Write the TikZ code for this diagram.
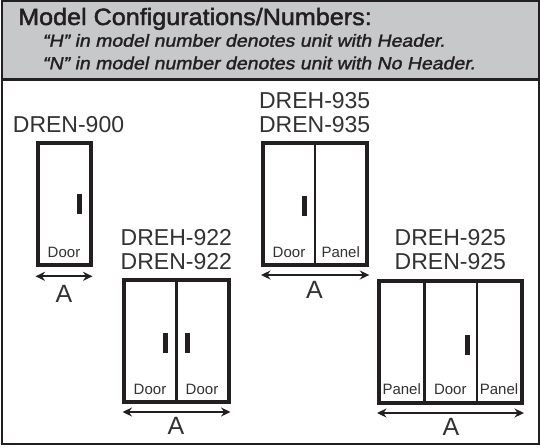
\documentclass[tikz,border=0pt]{standalone}
\usepackage{fontspec}
\setmainfont{Liberation Sans}
\newfontfamily\headfont[FakeBold=2,FakeStretch=1.07]{Liberation Sans}
\newfontfamily\noteital[FakeBold=1.6,FakeSlant=0.2,FakeStretch=1.113]{Liberation Sans}
\usetikzlibrary{arrows.meta}
\definecolor{ink}{HTML}{231F20}
\definecolor{band}{HTML}{C7C8CA}
\definecolor{soft}{HTML}{333132}
\tikzset{
  unit/.style={draw=ink,line width=4pt,fill=white,inner sep=0pt,outer sep=0pt,anchor=north west},
  divider/.style={draw=ink,line width=2.4pt},
  handle/.style={fill=ink,draw=none,inner sep=0pt,outer sep=0pt,minimum width=4.6pt,minimum height=20pt},
  model/.style={anchor=base,font=\fontsize{23}{23}\selectfont,text=soft,inner sep=0pt},
  leaf/.style={anchor=base,font=\fontsize{15}{15}\selectfont,text=soft,inner sep=0pt},
  dimtext/.style={anchor=base,font=\fontsize{25}{25}\selectfont,text=soft,inner sep=0pt},
  dimline/.style={draw=ink,line width=1.8pt,{Stealth[length=9.5pt,width=9pt]}-{Stealth[length=9.5pt,width=9pt]}},
  title/.style={anchor=base west,inner sep=0pt,text=ink},
}
\begin{document}
\begin{tikzpicture}[x=1pt,y=-1pt]
\useasboundingbox (0,0) rectangle (540,447);
\fill[white] (0,0) rectangle (540,447);
% header band and frame
\fill[band] (1.8,0.5) rectangle (538.7,79.5);
\draw[ink,line width=2.4pt] (1.8,79.5) -- (538.7,79.5);
\draw[ink,line width=2pt] (1.8,0.5) rectangle (538.7,443.7);
\node[title,font=\headfont\fontsize{23.5}{24}\selectfont] (head) at (18,25) {Model Configurations/Numbers:};
\node[title,font=\noteital\fontsize{17.5}{18}\selectfont] (noteH) at (42,46.7) {“H” in model number denotes unit with Header.};
\node[title,font=\noteital\fontsize{17.5}{18}\selectfont] (noteN) at (42,69.3) {“N” in model number denotes unit with No Header.};
% DREN-900
\node[model] (m900) at (68.5,132.7) {DREN-900};
\node[unit,minimum width=53pt,minimum height=121.4pt] (u900) at (37.7,143.3) {};
\node[handle] (h900) at (79.5,204) {};
\node[leaf] (d900) at (64,257.3) {Door};
\coordinate (a900l) at (35.5,276.3);
\coordinate (a900r) at (92.5,276.3);
\draw[dimline] (a900l) -- (a900r);
\node[dimtext] (A900) at (64,302) {A};
% DREH/DREN-922
\node[model] (m922a) at (176.3,245.7) {DREH-922};
\node[model] (m922b) at (176.3,269) {DREN-922};
\node[unit,minimum width=104.4pt,minimum height=122pt] (u922) at (124.3,280) {};
\draw[divider] (176.3,280) -- (176.3,402);
\node[handle] (h922a) at (165.7,343) {};
\node[handle] (h922b) at (187.5,343) {};
\node[leaf] (d922a) at (150,394) {Door};
\node[leaf] (d922b) at (202,394) {Door};
\coordinate (a922l) at (122.5,412);
\coordinate (a922r) at (230.5,412);
\draw[dimline] (a922l) -- (a922r);
\node[dimtext] (A922) at (176,434.7) {A};
% DREH/DREN-935
\node[model] (m935a) at (314.7,108.3) {DREH-935};
\node[model] (m935b) at (314.7,132.7) {DREN-935};
\node[unit,minimum width=104.3pt,minimum height=121.4pt] (u935) at (263,143.3) {};
\draw[divider] (315,143.3) -- (315,264.7);
\node[handle] (h935) at (304.2,205.7) {};
\node[leaf] (d935) at (289,257.3) {Door};
\node[leaf] (p935) at (340.7,257.3) {Panel};
\coordinate (a935l) at (261,275);
\coordinate (a935r) at (369.3,275);
\draw[dimline] (a935l) -- (a935r);
\node[dimtext] (A935) at (314.5,298) {A};
% DREH/DREN-925
\node[model] (m925a) at (450.3,245.7) {DREH-925};
\node[model] (m925b) at (450.3,269) {DREN-925};
\node[unit,minimum width=143.3pt,minimum height=121.7pt] (u925) at (378.7,281) {};
\draw[divider] (424.5,281) -- (424.5,402.7);
\draw[divider] (477,281) -- (477,402.7);
\node[handle] (h925) at (467.7,345.3) {};
\node[leaf] (p925a) at (401.7,394.7) {Panel};
\node[leaf] (d925) at (450.3,394.7) {Door};
\node[leaf] (p925b) at (499,394.7) {Panel};
\coordinate (a925l) at (377,413);
\coordinate (a925r) at (524,413);
\draw[dimline] (a925l) -- (a925r);
\node[dimtext] (A925) at (451,435.7) {A};
\end{tikzpicture}
\end{document}
